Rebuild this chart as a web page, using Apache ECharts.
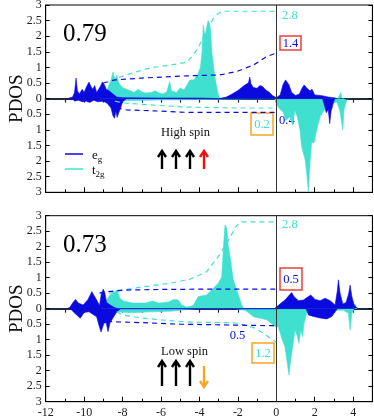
<!DOCTYPE html>
<html>
<head>
<meta charset="utf-8">
<script src="https://cdn.jsdelivr.net/npm/echarts@6/dist/echarts.min.js"></script>
<style>
  html, body { margin: 0; padding: 0; background: #fff; }
  #main { width: 374px; height: 417px; }
</style>
</head>
<body>
<div id="main"></div>
<script>
// energy (eV) vs PDOS, spin up > 0, spin down < 0

// ---- panel 1 (0.79, high spin) ----
var egUp1 = [[-10.9,0],[-10.6,0.05],[-10.5,0.2],[-10.42,0.66],[-10.35,0.25],[-10.25,0.15],[-10.1,0.3],[-10.0,0.2],[-9.9,0.35],[-9.75,0.53],[-9.65,0.4],[-9.55,0.3],[-9.45,0.42],[-9.35,0.2],[-9.25,0.15],[-9.15,0.4],[-9.05,0.53],[-8.95,0.45],[-8.85,0.3],[-8.7,0.25],[-8.5,0.15],[-8.3,0.05],[-8.0,0.03],[-6,0.02],[-4,0.02],[-3.0,0.0],[-2.6,0.05],[-2.3,0.15],[-2.0,0.26],[-1.8,0.36],[-1.6,0.45],[-1.45,0.5],[-1.38,0.69],[-1.32,0.48],[-1.2,0.36],[-1.0,0.33],[-0.85,0.42],[-0.7,0.38],[-0.55,0.28],[-0.4,0.22],[-0.2,0.1],[0,0.03],[0.2,0.12],[0.35,0.45],[0.48,0.6],[0.65,0.45],[0.8,0.2],[1.0,0.1],[1.2,0.15],[1.35,0.35],[1.45,0.44],[1.6,0.33],[1.75,0.25],[1.86,0.3],[2.0,0.12],[2.3,0.1],[2.5,0.08],[2.7,0.05],[3.0,0.03],[3.2,0]];
var egDn1 = [[-10.6,0],[-10.5,-0.08],[-10.3,-0.05],[-10.1,-0.1],[-9.9,-0.08],[-9.7,-0.12],[-9.5,-0.05],[-9.3,-0.1],[-9.0,-0.08],[-8.8,-0.15],[-8.6,-0.3],[-8.5,-0.55],[-8.42,-0.63],[-8.35,-0.4],[-8.28,-0.6],[-8.2,-0.45],[-8.1,-0.3],[-8.0,-0.1],[-7.9,-0.05],[-7.8,0],[2.4,0],[2.5,-0.2],[2.6,-0.45],[2.7,-0.35],[2.78,-0.8],[2.85,-0.4],[2.9,-0.3],[2.98,-0.1],[3.05,0]];
var t2Up1 = [[-9.2,0],[-9.0,0.1],[-8.8,0.3],[-8.6,0.6],[-8.5,0.85],[-8.4,0.6],[-8.3,0.75],[-8.2,0.5],[-8.0,0.35],[-7.8,0.3],[-7.6,0.25],[-7.4,0.2],[-7.2,0.3],[-7.0,0.22],[-6.8,0.18],[-6.5,0.2],[-6.3,0.25],[-6.1,0.18],[-5.9,0.15],[-5.7,0.22],[-5.55,0.55],[-5.45,0.25],[-5.2,0.2],[-5.0,0.34],[-4.8,0.28],[-4.5,0.6],[-4.3,0.6],[-4.1,0.76],[-3.95,1.0],[-3.87,1.46],[-3.8,2.36],[-3.72,2.0],[-3.62,2.3],[-3.55,2.5],[-3.47,2.4],[-3.42,2.2],[-3.35,1.46],[-3.2,0.7],[-3.05,0.2],[-2.94,0],[3.2,0],[3.3,0.05],[3.35,0.2],[3.4,0.03],[3.5,0]];
var t2Dn1 = [[-8.6,0],[-8.4,-0.05],[-7.5,-0.06],[-6,-0.04],[-4,-0.03],[-3,-0.02],[-0.1,0],[0,-0.04],[0.02,-0.2],[0.2,-0.35],[0.35,-0.42],[0.5,-0.7],[0.71,-0.58],[0.85,-0.85],[0.97,-0.36],[1.1,-0.6],[1.23,-1.0],[1.32,-1.54],[1.5,-1.96],[1.58,-2.38],[1.67,-2.98],[1.75,-2.06],[1.84,-1.38],[1.96,-1.42],[2.1,-1.0],[2.28,-0.58],[2.44,-0.42],[2.62,-0.26],[2.8,-0.2],[3.14,-0.1],[3.3,-0.36],[3.46,-1.0],[3.52,-0.36],[3.66,-0.04],[3.75,0]];
var t2Cum1Up = [[-8.6,0.55],[-8.3,0.66],[-7.5,0.82],[-6.6,0.98],[-5.5,1.08],[-4.65,1.16],[-4.13,1.56],[-3.6,2.2],[-3.3,2.55],[-3.0,2.74],[-2.7,2.8],[0,2.8]];
var egCum1Up = [[-9.0,0.5],[-8.4,0.6],[-7.0,0.66],[-4.65,0.73],[-2.93,0.76],[-2.05,0.87],[-1.18,1.08],[-0.49,1.35],[0,1.46]];
var t2Cum1Dn = [[-8.4,-0.08],[-7.9,-0.14],[-6.6,-0.2],[-4.65,-0.27],[-2.0,-0.3],[0,-0.3]];
var egCum1Dn = [[-8.3,-0.3],[-7.8,-0.36],[-6.0,-0.4],[-4.65,-0.44],[0,-0.44]];

// ---- panel 2 (0.73, low spin) ----
var egUp2 = [[-10.9,0],[-10.75,0.04],[-10.6,0.18],[-10.45,0.3],[-10.3,0.18],[-10.05,0.12],[-9.8,0.3],[-9.6,0.55],[-9.5,0.6],[-9.35,0.28],[-9.2,0.1],[-9.1,0.5],[-9.0,0.63],[-8.92,0.5],[-8.83,0.2],[-8.6,0.1],[-8.4,0.03],[-8.2,0],[-0.1,0],[0,0.06],[0.19,0.15],[0.45,0.28],[0.68,0.44],[0.8,0.52],[0.92,0.39],[1.15,0.26],[1.41,0.28],[1.67,0.39],[1.79,0.44],[2.02,0.3],[2.28,0.26],[2.54,0.34],[2.8,0.26],[3.06,0.12],[3.18,0.6],[3.23,0.93],[3.32,0.5],[3.46,0.15],[3.63,0.2],[3.77,0.5],[3.84,0.76],[3.93,0.39],[4.05,0.12],[4.19,0.03],[4.28,0]];
var egDn2 = [[-10.7,0],[-10.57,-0.1],[-10.2,-0.31],[-10.0,-0.12],[-9.75,-0.1],[-9.35,-0.26],[-9.2,-0.6],[-9.12,-0.75],[-8.97,-0.47],[-8.85,-0.45],[-8.76,-0.74],[-8.65,-0.45],[-8.5,-0.3],[-8.3,-0.1],[-8.1,0],[1.55,0],[1.67,-0.2],[1.93,-0.25],[2.28,-0.3],[2.63,-0.33],[2.89,-0.25],[3.06,-0.1],[3.18,0]];
var t2Up2 = [[-9.1,0],[-8.9,0.2],[-8.66,0.44],[-8.4,0.55],[-8.28,0.6],[-8.14,0.34],[-7.97,0.25],[-7.46,0.18],[-6.8,0.18],[-6.45,0.25],[-6.1,0.18],[-5.6,0.22],[-5.35,0.3],[-5.1,0.28],[-4.93,0.13],[-4.66,0.05],[-4.33,0.1],[-4.06,0.39],[-3.63,0.44],[-3.28,0.66],[-3.02,0.82],[-2.84,1.03],[-2.76,1.9],[-2.67,2.7],[-2.58,2.6],[-2.5,2.0],[-2.38,1.57],[-2.24,0.93],[-2.06,0.6],[-1.8,0.12],[-1.68,0],[3.7,0],[3.8,0.2],[3.9,0.1],[4.1,0.15],[4.2,0]];
var t2Dn2 = [[-8.5,0],[-8.3,-0.1],[-7.5,-0.13],[-6.5,-0.1],[-5.5,-0.08],[-5.0,-0.05],[-4.5,-0.02],[-4.0,0],[-2.1,0],[-1.6,-0.06],[-1.18,-0.26],[-0.49,-0.36],[-0.05,-0.58],[0.1,-0.58],[0.28,-0.95],[0.45,-1.23],[0.57,-1.76],[0.66,-2.14],[0.75,-1.65],[0.85,-1.23],[0.97,-0.69],[1.1,-0.9],[1.18,-1.12],[1.27,-0.69],[1.37,-0.9],[1.44,-0.47],[1.58,-0.15],[1.75,-0.06],[2.5,-0.05],[3.5,-0.05],[3.75,-0.15],[3.84,-0.69],[3.93,-0.15],[4.05,0]];
var t2Cum2Up = [[-8.7,0.5],[-8.0,0.6],[-7.0,0.7],[-5.54,0.82],[-4.5,0.95],[-3.63,1.19],[-3.02,1.68],[-2.5,2.2],[-2.15,2.6],[-1.9,2.8],[0,2.8]];
var egCum2Up = [[-9.2,0.5],[-8.8,0.55],[-8.0,0.6],[-6.0,0.62],[-4.0,0.63],[0,0.63]];
var t2Cum2Dn = [[-8.3,-0.1],[-8.0,-0.2],[-7.0,-0.3],[-6.0,-0.36],[-4.65,-0.43],[-2.5,-0.45],[-2.05,-0.47],[-1.18,-0.61],[-0.66,-0.79],[-0.22,-1.0],[0,-1.08]];
var egCum2Dn = [[-8.8,-0.4],[-8.5,-0.42],[-7.0,-0.45],[-5.0,-0.5],[0,-0.55]];

var xTickVals = [-12, -10, -8, -6, -4, -2, 0, 2, 4];

var EG = "#0a0ae0";
var T2 = "#40e0d0";
var SERIF = "Liberation Serif, Times New Roman, serif";

var myChart = echarts.init(document.getElementById("main"));

function area(data, color, xi, yi, z) {
    return {
        type: "line", data: data, xAxisIndex: xi, yAxisIndex: yi,
        showSymbol: false, symbol: "none", z: z, silent: true,
        lineStyle: { color: color, width: 0.6 },
        areaStyle: { color: color, opacity: 1 }
    };
}
function dash(data, color, xi, yi) {
    return {
        type: "line", data: data, xAxisIndex: xi, yAxisIndex: yi,
        showSymbol: false, symbol: "none", z: 5, silent: true,
        lineStyle: { color: color, width: 1.2, type: [5, 4] }
    };
}
function zeroV(xi, yi) {
    return {
        type: "line", data: [], xAxisIndex: xi, yAxisIndex: yi, silent: true,
        markLine: {
            symbol: "none", silent: true, label: { show: false },
            lineStyle: { color: "#333", width: 1, type: "solid" },
            data: [{ xAxis: 0 }]
        }
    };
}

function xAxes(gi, labels) {
    return [
        {
            type: "value", gridIndex: gi, min: -12, max: 5, interval: 2,
            position: "bottom", axisLine: { onZero: false, lineStyle: { color: "#000", width: 1 } },
            axisTick: { inside: true, length: 5, lineStyle: { color: "#000" } },
            minorTick: { show: true, splitNumber: 2, length: 3, lineStyle: { color: "#000" } },
            axisLabel: {
                show: labels, color: "#222", fontFamily: SERIF, fontSize: 12, margin: 5,
                customValues: xTickVals
            },
            splitLine: { show: false }
        },
        {
            type: "value", gridIndex: gi, min: -12, max: 5, interval: 1,
            position: "top", axisLine: { onZero: true, lineStyle: { color: "#1c2c3c", width: 2 } },
            axisTick: { inside: true, length: 4, lineStyle: { color: "#1c2c3c", width: 1.2 } },
            axisLabel: { show: false }, splitLine: { show: false }
        }
    ];
}
function yAxes(gi) {
    return [
        {
            type: "value", gridIndex: gi, min: -3, max: 3, interval: 0.5,
            name: "PDOS", nameLocation: "middle", nameGap: 19, nameRotate: 90, nameMoveOverlap: false,
            nameTextStyle: { fontFamily: SERIF, fontSize: 19, color: "#111" },
            axisLine: { onZero: false, lineStyle: { color: "#000" } },
            axisTick: { inside: true, length: 4, lineStyle: { color: "#000" } },
            axisLabel: {
                color: "#222", fontFamily: SERIF, fontSize: 12, margin: 4,
                formatter: function (v) { return String(Math.abs(v)); }
            },
            splitLine: { show: false }
        },
        {
            type: "value", gridIndex: gi, min: -3, max: 3, interval: 0.5, position: "right",
            axisLine: { onZero: false, lineStyle: { color: "#000" } },
            axisTick: { inside: true, length: 4, lineStyle: { color: "#000" } },
            axisLabel: { show: false }, splitLine: { show: false }
        }
    ];
}

function arrowUp(x, yTop, yBot, color) {
    return [
        { type: "line", shape: { x1: x, y1: yTop + 1, x2: x, y2: yBot }, style: { stroke: color, lineWidth: 2.4 } },
        { type: "polyline", shape: { points: [[x - 4, yTop + 6], [x, yTop], [x + 4, yTop + 6]] }, style: { stroke: color, lineWidth: 2.4, fill: null } }
    ];
}
function arrowDown(x, yTop, yBot, color) {
    return [
        { type: "line", shape: { x1: x, y1: yTop, x2: x, y2: yBot - 1 }, style: { stroke: color, lineWidth: 2.4 } },
        { type: "polyline", shape: { points: [[x - 4, yBot - 6], [x, yBot], [x + 4, yBot - 6]] }, style: { stroke: color, lineWidth: 2.4, fill: null } }
    ];
}
function txt(x, y, s, size, color, align) {
    return { type: "text", x: x, y: y, style: { text: s, font: size + "px " + SERIF, fill: color, align: align || "left", verticalAlign: "middle" } };
}
function box(x, y, w, h, color) {
    return { type: "rect", shape: { x: x, y: y, width: w, height: h }, style: { stroke: color, lineWidth: 1.5, fill: null } };
}

var graphics = [
    txt(63, 34, "0.79", 25, "#000"),
    txt(63, 245, "0.73", 25, "#000"),
    { type: "line", shape: { x1: 65, y1: 154, x2: 83, y2: 154 }, style: { stroke: EG, lineWidth: 1.5 } },
    { type: "line", shape: { x1: 65, y1: 169, x2: 83, y2: 169 }, style: { stroke: T2, lineWidth: 1.5 } },
    { type: "text", x: 92, y: 147, style: { text: "{a|e}{b|g}", rich: { a: { fontFamily: SERIF, fontSize: 13, fill: "#111" }, b: { fontFamily: SERIF, fontSize: 9, fill: "#111", padding: [8, 0, 0, 0] } } } },
    { type: "text", x: 92, y: 162, style: { text: "{a|t}{b|2g}", rich: { a: { fontFamily: SERIF, fontSize: 13, fill: "#111" }, b: { fontFamily: SERIF, fontSize: 9, fill: "#111", padding: [8, 0, 0, 0] } } } },
    txt(161, 133, "High spin", 12.5, "#111"),
    txt(161, 352, "Low spin", 12.5, "#111"),
    box(280, 36, 21, 14, "#e84040"), txt(290.5, 43.5, "1.4", 12.5, EG, "center"),
    box(251, 113, 22, 22, "#f5a623"), txt(262, 124.5, "0.2", 12.5, T2, "center"),
    txt(279, 121, "0.4", 12.5, EG),
    txt(282, 16, "2.8", 12.5, T2),
    box(280, 268, 22, 22, "#e84040"), txt(291, 279.5, "0.5", 12.5, EG, "center"),
    box(252, 343, 22, 20, "#f5a623"), txt(263, 353.5, "1.2", 12.5, T2, "center"),
    txt(237.5, 336, "0.5", 12.5, EG, "center"),
    txt(282, 225, "2.8", 12.5, T2)
];
[162, 176, 190].forEach(function (x) {
    graphics = graphics.concat(arrowUp(x, 151, 169, "#000"));
    graphics = graphics.concat(arrowUp(x, 361, 386, "#000"));
});
graphics = graphics.concat(arrowUp(204, 151, 169, "#f01010"));
graphics = graphics.concat(arrowDown(204, 366, 387, "#f5a623"));

var option = {
    animation: false,
    backgroundColor: "#fff",
    grid: [
        { left: 45.7, right: 1.6, top: 5, height: 187.3, show: true, borderColor: "#000", borderWidth: 1, outerBoundsMode: "none", containLabel: false },
        { left: 45.7, right: 1.6, top: 215.7, height: 186, show: true, borderColor: "#000", borderWidth: 1, outerBoundsMode: "none", containLabel: false }
    ],
    xAxis: xAxes(0, false).concat(xAxes(1, true)),
    yAxis: yAxes(0).concat(yAxes(1)),
    series: [
        area(t2Up1, T2, 0, 0, 2), area(t2Dn1, T2, 0, 0, 2),
        area(egUp1, EG, 0, 0, 3), area(egDn1, EG, 0, 0, 3),
        dash(t2Cum1Up, T2, 0, 0), dash(egCum1Up, EG, 0, 0),
        dash(t2Cum1Dn, T2, 0, 0), dash(egCum1Dn, EG, 0, 0),
        zeroV(0, 0),
        area(t2Up2, T2, 2, 2, 2), area(t2Dn2, T2, 2, 2, 2),
        area(egUp2, EG, 2, 2, 3), area(egDn2, EG, 2, 2, 3),
        dash(t2Cum2Up, T2, 2, 2), dash(egCum2Up, EG, 2, 2),
        dash(t2Cum2Dn, T2, 2, 2), dash(egCum2Dn, EG, 2, 2),
        zeroV(2, 2)
    ],
    graphic: graphics
};

myChart.setOption(option);
window.addEventListener("resize", function () { myChart.resize(); });
</script>
</body>
</html>
